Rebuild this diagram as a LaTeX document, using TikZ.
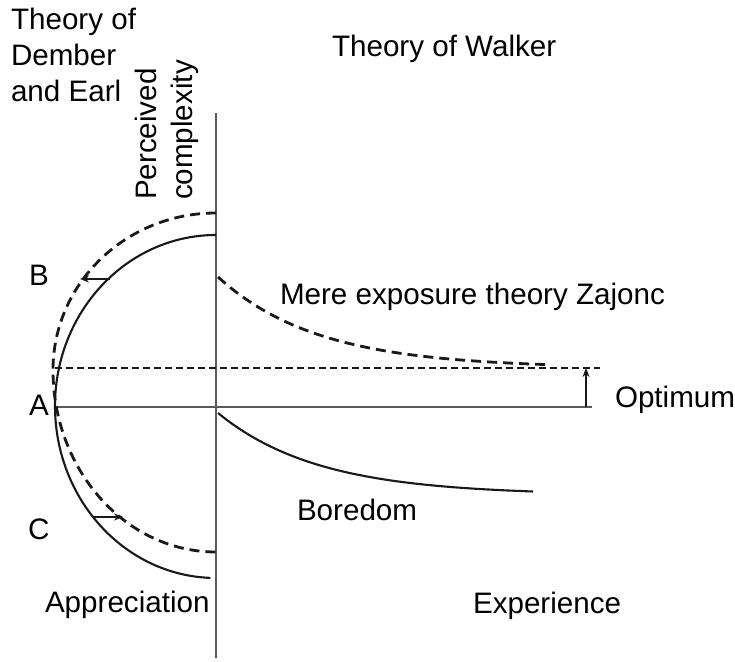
\documentclass[tikz,border=0pt]{standalone}
\usepackage{fontspec}
\setmainfont{Liberation Sans}
\usetikzlibrary{arrows.meta}
\begin{document}
\begin{tikzpicture}[x=1pt,y=1pt,
  lbl/.style={inner sep=0pt,outer sep=0pt,anchor=base west,font=\fontsize{29.6}{36}\selectfont},
  axisline/.style={draw=black!65,line width=1.5pt},
  curve/.style={draw=black!90,line width=2.1pt},
  dcurve/.style={draw=black!90,line width=2.8pt,dash pattern=on 10pt off 6pt},
  dline/.style={draw=black!90,line width=1.7pt,dash pattern=on 7pt off 4pt},
  shiftarrow/.style={draw=black!90,line width=1.6pt,-{Stealth[length=9pt,width=7pt]}}]
\useasboundingbox (0,0) rectangle (735,661);
\fill[white] (0,0) rectangle (735,661);
% axes
\coordinate (axtop) at (216,548);
\coordinate (axbot) at (216,3);
\draw[axisline] (axtop) -- (axbot);
\coordinate (hA) at (55,254);
\coordinate (hAend) at (592,254);
\draw[axisline] (hA) -- (hAend);
\coordinate (hO) at (55,293);
\coordinate (hOend) at (600,293);
\draw[dline] (hO) -- (hOend);
% Dember & Earl curves
\draw[curve] (216,426) arc[start angle=90,end angle=180,x radius=161,y radius=171]
  arc[start angle=180,end angle=268,x radius=161,y radius=172];
\draw[dcurve] (216,448) arc[start angle=90,end angle=180,x radius=163,y radius=157]
  arc[start angle=180,end angle=270,x radius=163,y radius=182];
% shift arrows
\coordinate (bs) at (110,382);
\coordinate (be) at (80,382);
\draw[shiftarrow] (bs) -- (be);
\coordinate (cs) at (93,144);
\coordinate (ce) at (123,144);
\draw[shiftarrow] (cs) -- (ce);
\coordinate (os) at (586,254);
\coordinate (oe) at (586,293);
\draw[shiftarrow] (os) -- (oe);
% Walker curves
\draw[dcurve] plot[domain=218:545,samples=80,smooth] (\x,{293+91*exp(-(\x-218)/100)});
\draw[curve] plot[domain=218:533,samples=80,smooth] (\x,{248-82*(1-exp(-(\x-218)/100))});
% labels
\node[lbl] (t1) at (11,631) {Theory of};
\node[lbl] (t2) at (11,595) {Dember};
\node[lbl] (t3) at (11,559) {and Earl};
\node[lbl] (walker) at (332,604) {Theory of Walker};
\node[lbl,rotate=90] (perc) at (156,461) {Perceived};
\node[lbl,rotate=90] (compl) at (192,461) {complexity};
\node[lbl] (B) at (29,375) {B};
\node[lbl] (A) at (29,245) {A};
\node[lbl] (C) at (28,122) {C};
\node[lbl] (appr) at (45,49) {Appreciation};
\node[lbl] (exper) at (473,48) {Experience};
\node[lbl] (bored) at (297,141) {Boredom};
\node[lbl] (mere) at (280,356) {Mere exposure theory Zajonc};
\node[lbl] (opt) at (615,253) {Optimum};
\end{tikzpicture}
\end{document}
